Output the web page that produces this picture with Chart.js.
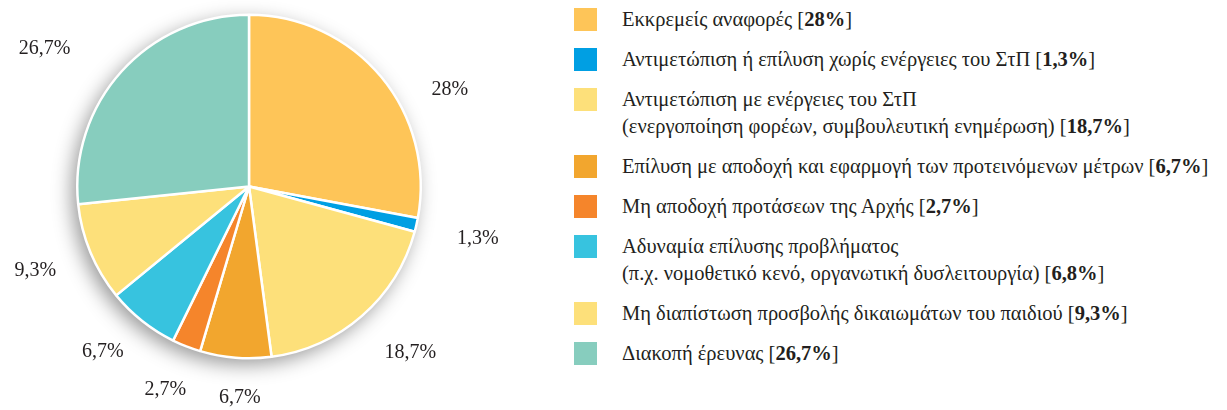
<!DOCTYPE html>
<html>
<head>
<meta charset="utf-8">
<script src="https://cdn.jsdelivr.net/npm/chart.js@4"></script>
<style>
  html, body { margin: 0; padding: 0; background: #fff; }
  body { width: 1227px; height: 410px; position: relative; overflow: hidden; font-family: "Liberation Serif", "DejaVu Serif", serif; color: #231f20; }
  #wrap { position: absolute; left: 0; top: 0; width: 498px; height: 410px; }
  #legend { position: absolute; left: 574px; top: 6px; margin: 0; padding: 0; list-style: none; }
  #legend li { display: flex; align-items: flex-start; margin-bottom: 13px; }
  #legend .sw { width: 23px; height: 23px; margin-top: 2px; margin-right: 25px; flex: none; }
  #legend .tx { font-size: 20.5px; line-height: 27px; white-space: nowrap; }
  #legend b { font-weight: bold; }
</style>
</head>
<body>
<div id="wrap"><canvas id="c"></canvas></div>
<ul id="legend"></ul>
<script>
const categories = [
  ["Εκκρεμείς αναφορές"],
  ["Αντιμετώπιση ή επίλυση χωρίς ενέργειες του ΣτΠ"],
  ["Αντιμετώπιση με ενέργειες του ΣτΠ", "(ενεργοποίηση φορέων, συμβουλευτική ενημέρωση)"],
  ["Επίλυση με αποδοχή και εφαρμογή των προτεινόμενων μέτρων"],
  ["Μη αποδοχή προτάσεων της Αρχής"],
  ["Αδυναμία επίλυσης προβλήματος", "(π.χ. νομοθετικό κενό, οργανωτική δυσλειτουργία)"],
  ["Μη διαπίστωση προσβολής δικαιωμάτων του παιδιού"],
  ["Διακοπή έρευνας"]
];
const values = [28, 1.3, 18.7, 6.7, 2.7, 6.8, 9.3, 26.7];
const legendPercents = ["28%", "1,3%", "18,7%", "6,7%", "2,7%", "6,8%", "9,3%", "26,7%"];
const sliceLabels = ["28%", "1,3%", "18,7%", "6,7%", "2,7%", "6,7%", "9,3%", "26,7%"];
const colors = ["#FEC558", "#009FE3", "#FDE07A", "#F2A62E", "#F5852B", "#37C3DF", "#FDE07A", "#87CDBE"];

// label placement tweaks (presentation only): extra distance beyond the rim, angle shift in degrees
const labelGap = [51, 63, 60, 40, 48, 49, 58, 75];
const labelShift = [14, 0, -3, -2, 1, 3, 1, -8];

// legend
const legendEl = document.getElementById('legend');
categories.forEach((lines, i) => {
  const li = document.createElement('li');
  const sw = document.createElement('span');
  sw.className = 'sw';
  sw.style.background = colors[i];
  const tx = document.createElement('span');
  tx.className = 'tx';
  tx.innerHTML = lines.map((l, k) => k === lines.length - 1
      ? l + ' [<b>' + legendPercents[i] + '</b>]' : l).join('<br>');
  li.appendChild(sw); li.appendChild(tx);
  legendEl.appendChild(li);
});

const shadowPlugin = {
  id: 'pieShadow',
  beforeDatasetsDraw(chart) {
    const arc = chart.getDatasetMeta(0).data[0];
    if (!arc) return;
    const ctx = chart.ctx;
    ctx.save();
    ctx.shadowColor = 'rgba(0,0,0,0.42)';
    ctx.shadowBlur = 20;
    ctx.shadowOffsetX = -5;
    ctx.shadowOffsetY = 6;
    ctx.beginPath();
    ctx.arc(arc.x, arc.y, arc.outerRadius, 0, Math.PI * 2);
    ctx.fillStyle = '#fff';
    ctx.fill();
    ctx.restore();
  }
};

const labelPlugin = {
  id: 'sliceLabels',
  afterDatasetsDraw(chart) {
    const ctx = chart.ctx;
    const meta = chart.getDatasetMeta(0);
    ctx.save();
    ctx.font = '20px "Liberation Serif", serif';
    ctx.fillStyle = '#231f20';
    ctx.textAlign = 'center';
    ctx.textBaseline = 'middle';
    meta.data.forEach((arc, i) => {
      const mid = (arc.startAngle + arc.endAngle) / 2 + labelShift[i] * Math.PI / 180;
      const r = arc.outerRadius + labelGap[i];
      ctx.fillText(sliceLabels[i], arc.x + Math.cos(mid) * r, arc.y + Math.sin(mid) * r);
    });
    ctx.restore();
  }
};

new Chart(document.getElementById('c'), {
  type: 'pie',
  data: {
    labels: categories.map(c => c.join(' ')),
    datasets: [{
      data: values,
      backgroundColor: colors,
      borderColor: '#ffffff',
      borderWidth: 2.5
    }]
  },
  options: {
    responsive: true,
    maintainAspectRatio: false,
    animation: false,
    layout: { padding: { top: 13, bottom: 50, left: 76, right: 76 } },
    plugins: { legend: { display: false }, tooltip: { enabled: false } }
  },
  plugins: [shadowPlugin, labelPlugin]
});
</script>
</body>
</html>
